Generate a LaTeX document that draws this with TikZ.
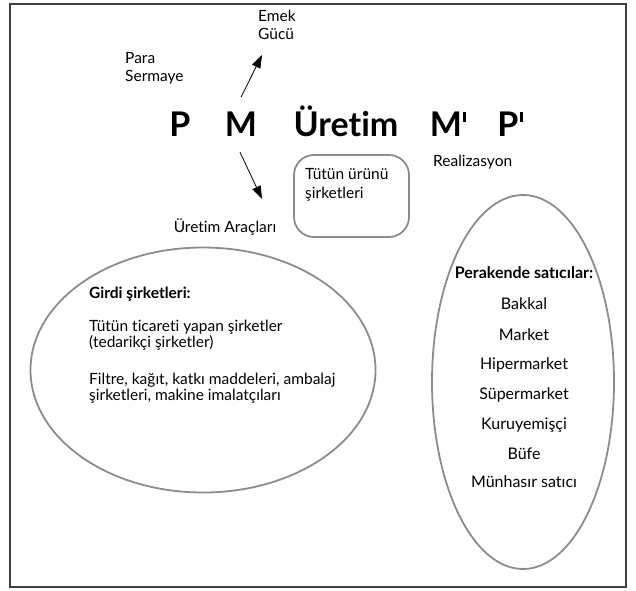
\documentclass[tikz,border=0pt]{standalone}
\usepackage{fontspec}
\setmainfont{Lato}[Ligatures={NoCommon}]
\usetikzlibrary{arrows.meta,shapes.geometric}
\tikzset{
  lbl/.style={inner sep=0pt, anchor=base west, font=\fontsize{15.5}{18}\selectfont, align=left},
  big/.style={inner sep=0pt, anchor=base, font=\fontsize{34}{34}\selectfont\bfseries},
  grayline/.style={draw=black!45, line width=1.8pt},
  arr/.style={-{Triangle[length=13pt,width=9pt]}, line width=0.8pt},
  item/.style={inner sep=0pt, anchor=base, font=\fontsize{16}{18}\selectfont}
}
% prime mark of the big letters
\newcommand{\bigprime}{\kern1.5pt\rule[14pt]{2.8pt}{10pt}}
\begin{document}
\begin{tikzpicture}[x=1pt,y=-1pt]
\useasboundingbox (0,0) rectangle (636,590);
\draw[draw=black!75, line width=1.2pt] (10,4) rectangle (626,587);

% circuit of capital
\node[big] (P) at (180,136) {P};
\node[big] (M) at (241,136) {M};
\node[big] (U) at (346,136) {Üretim};
\node[big] (M2) at (448,136) {M\bigprime};
\node[big] (P2) at (510,136) {P\bigprime};

% labels around the circuit (base = last line)
\node[lbl] (emek) at (258,39) {Emek\\Gücü};
\node[lbl] (para) at (125,81) {Para\\Sermaye};
\node[lbl, anchor=base] (arac) at (225,232) {Üretim Araçları};
\node[lbl] (real) at (433,166) {Realizasyon};

\coordinate (upend) at (262,55);
\coordinate (dnend) at (262,199);
\draw[arr] ([shift={(0,-14)}]M.north) -- (upend);
\draw[arr] ([shift={(-1,16)}]M.south) -- (dnend);

% producers
\draw[grayline, rounded corners=20pt] (294,155) rectangle (409,237);
\node[lbl, font=\fontsize{15.5}{19}\selectfont] (tutun) at (305,198) {Tütün ürünü\\şirketleri};

% suppliers
\node[ellipse, grayline, inner sep=0pt, minimum width=345pt, minimum height=245pt] (girdi) at (203,370) {};
\node[lbl, font=\fontsize{15.5}{18}\selectfont\bfseries] (gh) at (89,298) {Girdi şirketleri:};
\node[lbl, font=\fontsize{15.5}{16}\selectfont] (g1) at (89,347) {Tütün ticareti yapan şirketler\\(tedarikçi şirketler)};
\node[lbl, font=\fontsize{15.5}{16}\selectfont] (g2) at (89,400) {Filtre, kağıt, katkı maddeleri, ambalaj\\şirketleri, makine imalatçıları};

% retailers
\node[ellipse, grayline, inner sep=0pt, minimum width=182pt, minimum height=374pt] (perak) at (523,382) {};
\node[item, font=\fontsize{16}{18}\selectfont\bfseries] (ph) at (524,278) {Perakende satıcılar:};
\node[item] (r1) at (524,309) {Bakkal};
\node[item] (r2) at (524,340) {Market};
\node[item] (r3) at (524,369) {Hipermarket};
\node[item] (r4) at (524,399) {Süpermarket};
\node[item] (r5) at (524,429) {Kuruyemişçi};
\node[item] (r6) at (524,459) {Büfe};
\node[item] (r7) at (524,487) {Münhasır satıcı};
\end{tikzpicture}
\end{document}
